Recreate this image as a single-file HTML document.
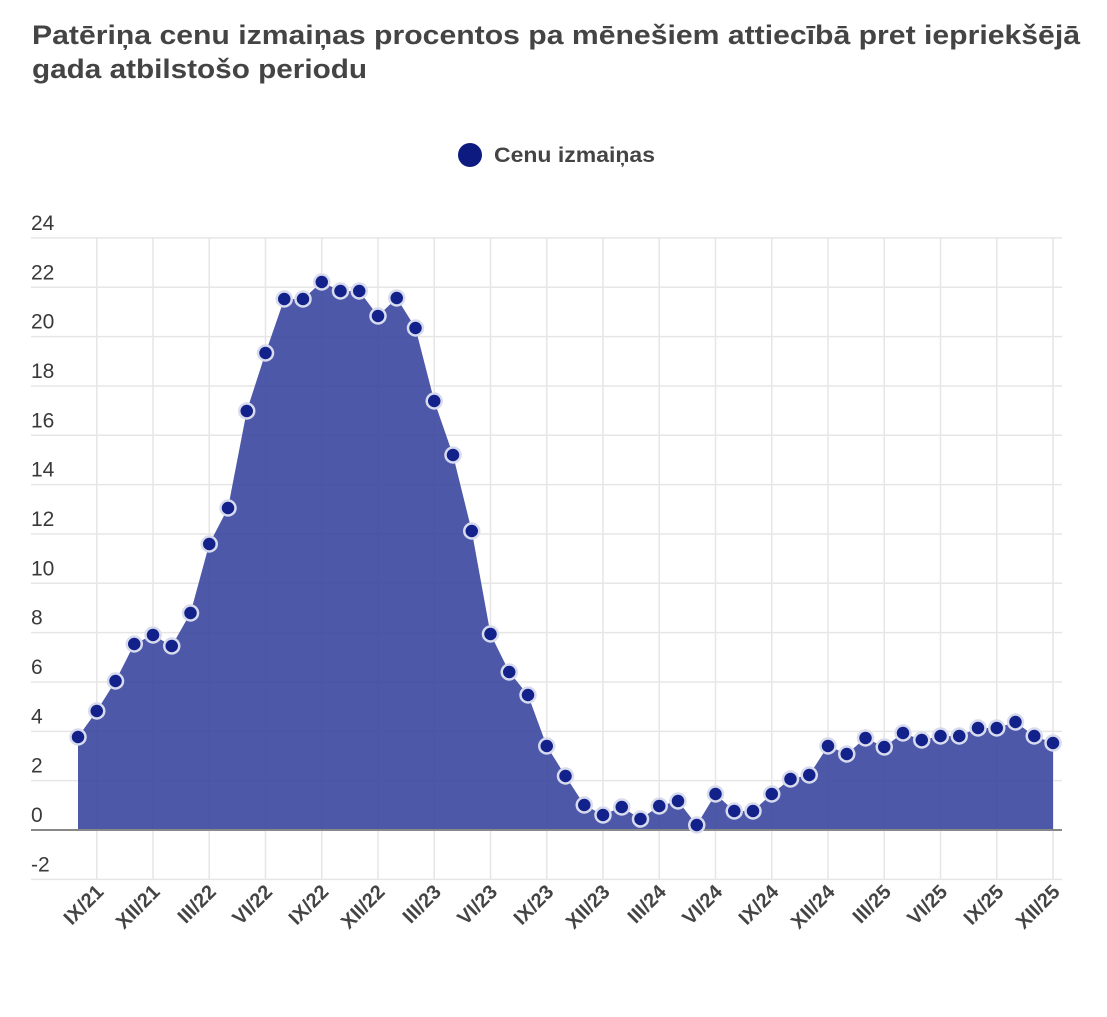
<!DOCTYPE html><html><head><meta charset="utf-8"><style>body{margin:0;background:#fff;font-family:"Liberation Sans",Arial,sans-serif}</style></head><body>
<svg width="1107" height="1012" xmlns="http://www.w3.org/2000/svg" font-family="Liberation Sans, Arial, sans-serif">
<text x="32" y="44" font-size="27" font-weight="bold" fill="#444" textLength="1048" lengthAdjust="spacingAndGlyphs">Patēriņa cenu izmaiņas procentos pa mēnešiem attiecībā pret iepriekšējā</text>
<text x="32" y="78" font-size="27" font-weight="bold" fill="#444" textLength="335" lengthAdjust="spacingAndGlyphs">gada atbilstošo periodu</text>
<circle cx="470" cy="155" r="12" fill="#0d1a80"/>
<text x="494" y="162" font-size="21" font-weight="bold" fill="#444" textLength="161" lengthAdjust="spacingAndGlyphs">Cenu izmaiņas</text>
<g id="g" stroke="#e6e6e6" stroke-width="1.5"></g>
<g id="lab" font-size="21" fill="#3a3a3a"></g>
<path id="area" fill="#3a469e" fill-opacity="0.9"/>
<line x1="31" x2="1062" y1="830" y2="830" stroke="#888" stroke-width="2"/>
<g id="pts"></g>
<g id="xl" font-size="20" font-weight="bold" fill="#444"></g>
</svg>
<script>
const ns="http://www.w3.org/2000/svg";
function el(t,a,p,txt){const e=document.createElementNS(ns,t);for(const k in a)e.setAttribute(k,a[k]);if(txt!=null)e.textContent=txt;document.getElementById(p).appendChild(e);return e;}
const y0=830,u=24.67;
for(let v=-2;v<=24;v+=2){const y=y0-v*u;if(v!=0)el("line",{x1:31,x2:1062,y1:y,y2:y},"g");el("text",{x:31,y:y-8},"lab",String(v));}
const labs=["IX/21","XII/21","III/22","VI/22","IX/22","XII/22","III/23","VI/23","IX/23","XII/23","III/24","VI/24","IX/24","XII/24","III/25","VI/25","IX/25","XII/25"];
const x0=78,dx=18.75;
labs.forEach((l,i)=>{const x=x0+dx*(1+3*i);el("line",{x1:x,x2:x,y1:238,y2:879},"g");
el("text",{x:x+8,y:893,"text-anchor":"end",transform:`rotate(-45 ${x+8} 893)`},"xl",l);});
const ys=[737,711,681,644,635,646,613,544,508,411,353,299,299,282,291,291,316,298,328,401,455,531,634,672,695,746,776,805,815,807,819,806,801,825,794,811,811,794,779,775,746,754,738,747,733,740,736,736,728,728,722,736,743];
let d=`M${x0},830`;ys.forEach((y,i)=>d+=` L${x0+dx*i},${y}`);d+=` L${x0+dx*52},830Z`;
document.getElementById("area").setAttribute("d",d);
ys.forEach((y,i)=>el("circle",{cx:x0+dx*i,cy:y,r:7.5,fill:"#13228a",stroke:"#d8dbee","stroke-width":2.5},"pts"));
</script>
</body></html>
